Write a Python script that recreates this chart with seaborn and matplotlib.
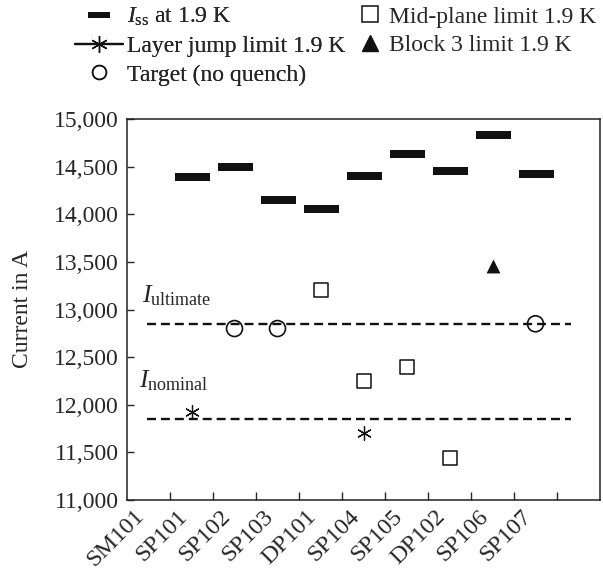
import numpy as np
import pandas as pd
import matplotlib
matplotlib.use("Agg")
import matplotlib.pyplot as plt
import matplotlib.transforms as mtransforms
from matplotlib.path import Path
from matplotlib.lines import Line2D
from matplotlib.ticker import FuncFormatter
import seaborn as sns

# ---------------- data ----------------
categories = ["SM101", "SP101", "SP102", "SP103", "DP101", "SP104",
              "SP105", "DP102", "SP106", "SP107"]
iss_cats = ["SP101", "SP102", "SP103", "DP101", "SP104", "SP105", "DP102", "SP106", "SP107"]
iss_vals = [14390, 14500, 14150, 14060, 14400, 14630, 14450, 14830, 14420]
mid_cats = ["DP101", "SP104", "SP105", "DP102"]
mid_vals = [13200, 12245, 12400, 11440]
layer_cats = ["SP101", "SP104"]
layer_vals = [11920, 11700]
block_cats = ["SP106"]
block_vals = [13460]
target_cats = ["SP102", "SP103", "SP107"]
target_vals = [12800, 12800, 12850]
i_ultimate = 12850
i_nominal = 11850
yticks = [11000, 11500, 12000, 12500, 13000, 13500, 14000, 14500, 15000]

# ---------------- style ----------------
sns.set_theme(style="white")
plt.rcParams["font.family"] = ["Liberation Serif", "DejaVu Serif"]
plt.rcParams["mathtext.fontset"] = "custom"
plt.rcParams["mathtext.rm"] = "Liberation Serif"
plt.rcParams["mathtext.it"] = "Liberation Serif:italic"
FS = 17

pos = {c: i for i, c in enumerate(categories)}

def frame(cats, vals):
    return pd.DataFrame({"x": [pos[c] for c in cats], "y": vals})

fig = plt.figure(figsize=(6.03, 5.78), dpi=100)
ax = fig.add_axes([127 / 603, 1 - 500 / 578, (600 - 127) / 603, (500 - 119) / 578])

rect = Path([(-1, -0.214), (1, -0.214), (1, 0.214), (-1, 0.214), (-1, -0.214)],
            [Path.MOVETO, Path.LINETO, Path.LINETO, Path.LINETO, Path.CLOSEPOLY])
rect_leg = Path([(-1, -0.3), (1, -0.3), (1, 0.3), (-1, 0.3), (-1, -0.3)],
                [Path.MOVETO, Path.LINETO, Path.LINETO, Path.LINETO, Path.CLOSEPOLY])

sns.scatterplot(data=frame(iss_cats, iss_vals), x="x", y="y", marker=rect, s=25.2 ** 2,
                color="#111111", linewidth=0, ax=ax, legend=False, zorder=3)
sns.scatterplot(data=frame(mid_cats, mid_vals), x="x", y="y", marker="s", s=10 ** 2,
                facecolor="white", edgecolor="#111111", linewidth=1.1, ax=ax, legend=False, zorder=3)
sns.scatterplot(data=frame(layer_cats, layer_vals), x="x", y="y", marker=(6, 2, 0), s=10 ** 2,
                color="#111111", edgecolor="#111111", linewidth=0.9, ax=ax, legend=False, zorder=3)
sns.scatterplot(data=frame(block_cats, block_vals), x="x", y="y", marker="^", s=10 ** 2,
                color="#111111", linewidth=0, ax=ax, legend=False, zorder=3)
sns.scatterplot(data=frame(target_cats, target_vals), x="x", y="y", marker="o", s=11.5 ** 2,
                facecolor="none", edgecolor="#111111", linewidth=1.2, ax=ax, legend=False, zorder=3)

dash = (0, (3.8, 2.1))
ax.hlines([i_ultimate, i_nominal], -0.03, 9.83, colors="#111111", linewidth=1.7,
          linestyles=[dash], zorder=2)

ax.text(-0.15, 13070, r"$I_{\mathrm{ultimate}}$", fontsize=18.5, va="baseline", ha="left")
ax.text(-0.22, 12185, r"$I_{\mathrm{nominal}}$", fontsize=18.5, va="baseline", ha="left")

ax.set_xlim(-0.5, 10.5)
ax.set_ylim(11000, 15000)
ax.set_yticks(yticks)
ax.yaxis.set_major_formatter(FuncFormatter(lambda v, p: f"{int(v):,}"))
ax.set_xticks(range(len(categories)))
ax.set_xticklabels(categories, rotation=45, ha="right", va="top", fontsize=17.5)
shift = mtransforms.ScaledTranslation(4 / 100, 0, fig.dpi_scale_trans)
for lab in ax.get_xticklabels():
    lab.set_transform(lab.get_transform() + shift)
ax.set_xticks(np.arange(0.5, len(categories), 1.0), minor=True)
ax.tick_params(axis="x", which="major", length=0, pad=4)
ax.tick_params(axis="x", which="minor", direction="in", length=6, width=1.0, bottom=True)
ax.tick_params(axis="y", which="major", direction="in", length=5, width=1.0, left=True,
               labelsize=FS, pad=6)
ax.set_xlabel("")
ax.set_ylabel("Current in A", fontsize=FS, labelpad=15)
for s in ax.spines.values():
    s.set_color("#222222")
    s.set_linewidth(1.1)

# ---------------- legends ----------------
h_iss = Line2D([], [], marker=rect_leg, markersize=16, color="#111111", linestyle="none",
               markeredgewidth=0)
h_layer = Line2D([], [], marker=(6, 2, 0), markersize=12, color="#111111", linewidth=1.6,
                 markeredgewidth=0.9)
h_target = Line2D([], [], marker="o", markersize=10, markerfacecolor="none",
                  markeredgecolor="#111111", linestyle="none", markeredgewidth=1.1)
h_mid = Line2D([], [], marker="s", markersize=12, markerfacecolor="none",
               markeredgecolor="#111111", linestyle="none", markeredgewidth=1.1)
h_block = Line2D([], [], marker="^", markersize=11, color="#111111", linestyle="none")

leg1 = fig.legend([h_iss, h_layer, h_target],
                  [r"$I_{\mathrm{ss}}$ at 1.9 K", "Layer jump limit 1.9 K", "Target (no quench)"],
                  loc="upper left", bbox_to_anchor=(75 / 603, 1 - 6 / 578), frameon=False,
                  fontsize=FS, handlelength=2.03, handletextpad=0.17, labelspacing=0.3,
                  borderpad=0, borderaxespad=0)
fig.add_artist(leg1)
leg2 = fig.legend([h_mid, h_block],
                  ["Mid-plane limit 1.9 K", "Block 3 limit 1.9 K"],
                  loc="upper left", bbox_to_anchor=(358 / 603, 1 - 6 / 578), frameon=False,
                  fontsize=FS, handlelength=1.0, handletextpad=0.3, labelspacing=0.3,
                  borderpad=0, borderaxespad=0)

fig.savefig("out.png", dpi=100)
